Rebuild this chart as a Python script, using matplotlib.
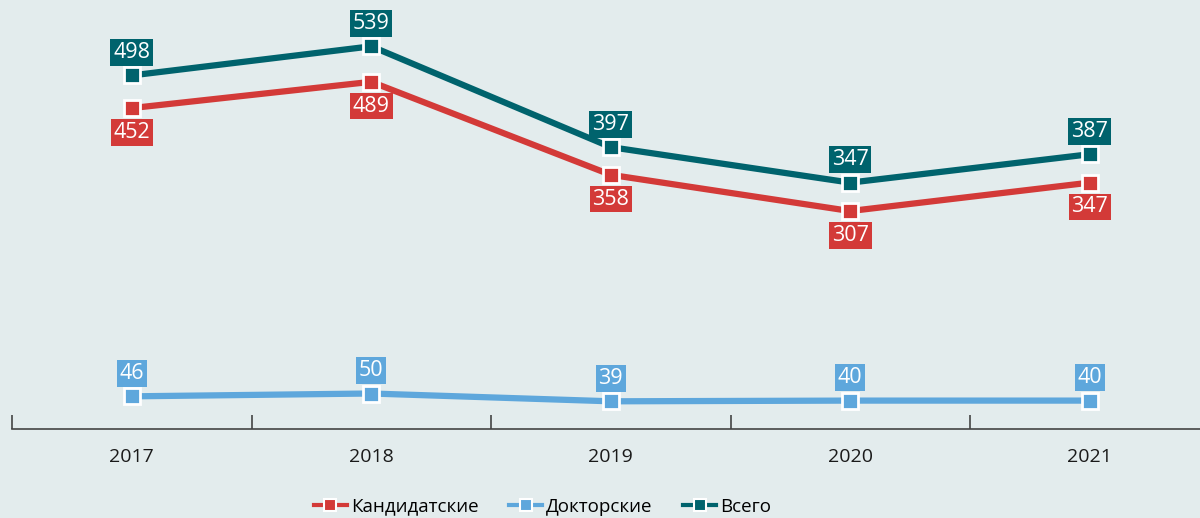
import matplotlib.pyplot as plt
from matplotlib.lines import Line2D

years = ['2017', '2018', '2019', '2020', '2021']
kandidat = [452, 489, 358, 307, 347]
doktor = [46, 50, 39, 40, 40]
vsego = [498, 539, 397, 347, 387]

RED = '#d33a38'
BLUE = '#5ea7dc'
TEAL = '#00636d'
BG = '#e3eced'

plt.rcParams['font.family'] = ['Open Sans', 'DejaVu Sans']

fig = plt.figure(figsize=(12, 5.18), dpi=100, facecolor=BG)
ax = fig.add_axes([12 / 1200, 89 / 518, 1197.5 / 1200, 426 / 518])
ax.set_facecolor(BG)

x = list(range(len(years)))

series = [
    (kandidat, RED, 'Кандидатские', 'below'),
    (doktor, BLUE, 'Докторские', 'above'),
    (vsego, TEAL, 'Всего', 'above'),
]

for vals, color, name, pos in series:
    ax.plot(x, vals, color=color, lw=4.5, marker='s', ms=11.5,
            mfc=color, mec='white', mew=2, zorder=3, clip_on=False)
    dy = 16.5 if pos == 'above' else -17.5
    for xi, v in zip(x, vals):
        ax.annotate(str(v), (xi, v), xytext=(0, dy), textcoords='offset points',
                    ha='center', va='center', fontsize=15.5, color='white',
                    bbox=dict(boxstyle='square,pad=0.13', fc=color, ec='none'),
                    zorder=4)

ax.set_xlim(-0.5, len(years) - 0.5)
ax.set_ylim(0, 600)

for s in ['top', 'right', 'left']:
    ax.spines[s].set_visible(False)
ax.spines['bottom'].set_color('#444444')
ax.spines['bottom'].set_linewidth(1.2)
ax.set_yticks([])

# ticks between categories, labels at centres
ax.set_xticks([i - 0.5 for i in range(len(years))])
ax.set_xticklabels([])
ax.tick_params(axis='x', length=10, width=1.2, color='#444444', direction='in')
ax.set_xticks(x, minor=True)
ax.set_xticklabels(years, minor=True, fontsize=14, color='#1a1a1a')
ax.tick_params(axis='x', which='minor', length=0, pad=14)

handles = [Line2D([], [], color=c, lw=3, marker='s', ms=9, mfc=c, mec='white', mew=1.5)
           for _, c, _, _ in series]
labels = [n for _, _, n, _ in series]
fig.legend(handles, labels, loc='lower center', bbox_to_anchor=(0.452, -0.028),
           ncol=3, frameon=False, fontsize=13.5, handlelength=1.8,
           handletextpad=0.2, columnspacing=1.6)

fig.savefig('out.png', facecolor=BG)
